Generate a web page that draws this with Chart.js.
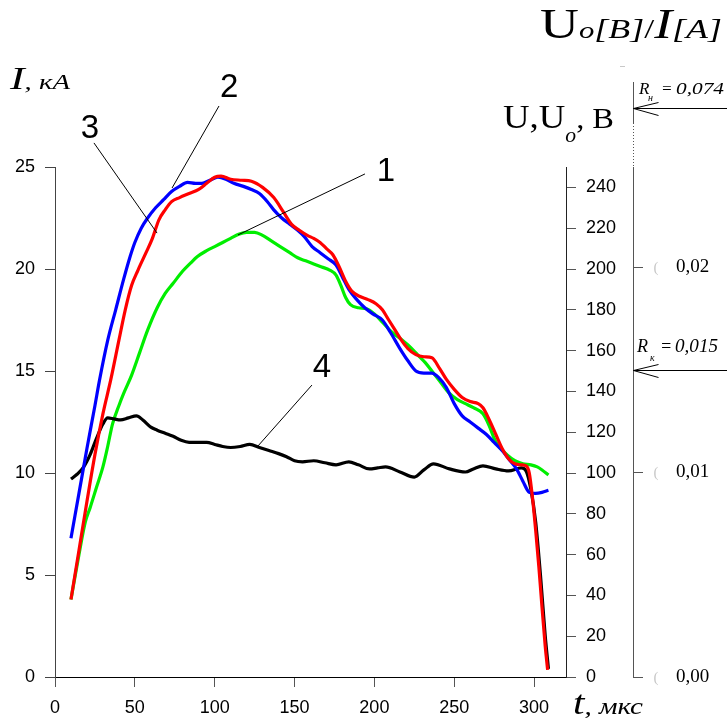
<!doctype html>
<html lang="ru">
<head>
<meta charset="utf-8">
<title>I, U (t)</title>
<script src="https://cdn.jsdelivr.net/npm/chart.js@4.4.1/dist/chart.umd.min.js"></script>
<style>
    body { margin: 0; background: #fff; }
    #chart { display: block; }
</style>
</head>
<body>
<canvas id="chart" width="727" height="724"></canvas>
<script>
    // axis ticks
    var tTicks = [0, 50, 100, 150, 200, 250, 300];
    var iTicks = [0, 5, 10, 15, 20, 25];
    var uTicks = [0, 20, 40, 60, 80, 100, 120, 140, 160, 180, 200, 220, 240];
    var rTicks = [0, 0.01, 0.02];

    // curve 1 (green), t in mks, I in kA
    var t1 = [10,15,19,22,26,30,33,36,40,43,48,53,58,64,69,74,80,85,89,95,100,105,110,115,120,125,130,135,141,147,152,157,162,167,172,176,179,182,185,190,195,200,205,211,216,222,227,232,236,241,247,252,257,262,268,272,275,278,283,288,293,298,302,305,309];
    var i1 = [3.8,6.0,7.6,8.3,9.3,10.3,11.3,12.4,13.3,13.9,14.8,15.9,17.0,18.1,18.8,19.3,19.9,20.3,20.6,20.9,21.1,21.3,21.5,21.7,21.8,21.8,21.65,21.4,21.1,20.8,20.55,20.4,20.25,20.1,19.95,19.7,19.2,18.6,18.25,18.1,18.05,17.8,17.4,16.9,16.6,16.2,15.8,15.4,15.0,14.5,13.9,13.6,13.4,13.2,12.9,12.3,11.7,11.3,10.9,10.6,10.45,10.4,10.3,10.15,9.9];

    // curve 2 (blue)
    var t2 = [10,15,20,25,28,33,38,43,47,50,54,58,63,68,73,78,83,88,92,97,102,107,112,118,123,128,133,137,142,147,152,156,161,166,171,176,180,184,189,194,199,205,210,216,221,226,231,236,240,245,250,255,260,265,270,275,280,285,289,293,297,301,305,309];
    var i2 = [6.8,9.0,11.2,13.3,14.6,16.5,18.0,19.5,20.6,21.3,22.0,22.5,23.0,23.4,23.8,24.05,24.25,24.2,24.2,24.35,24.5,24.4,24.2,24.05,23.9,23.7,23.3,22.9,22.5,22.2,21.9,21.6,21.1,20.8,20.5,20.2,19.6,19.0,18.5,18.1,17.8,17.5,16.9,16.1,15.5,15.0,14.9,14.9,14.7,14.2,13.4,12.8,12.5,12.2,11.9,11.5,11.1,10.6,10.2,9.6,9.05,9.0,9.05,9.15];

    // curve 3 (red)
    var t3 = [10,15,20,25,30,35,40,44,48,52,57,61,65,69,73,78,84,90,95,100,104,110,117,123,130,137,143,148,153,158,162,166,170,174,178,182,186,191,196,201,205,209,213,217,221,226,231,236,241,245,250,255,260,265,268,272,276,280,284,288,292,295,297,299,301,303,305,307,308.5];
    var i3 = [3.8,6.2,8.6,10.9,12.9,14.6,16.5,18.0,19.2,19.95,20.8,21.5,22.4,22.9,23.3,23.5,23.7,23.9,24.2,24.5,24.55,24.4,24.35,24.3,24.0,23.5,22.8,22.2,21.9,21.65,21.5,21.3,21.0,20.7,20.1,19.4,18.9,18.65,18.5,18.3,18.0,17.5,17.0,16.5,16.1,15.8,15.7,15.65,15.1,14.6,14.1,13.7,13.5,13.4,13.2,12.6,11.9,11.2,10.7,10.45,10.4,10.35,10.0,8.8,7.2,5.4,3.4,1.5,0.35];

    // curve 4 (black)
    var t4 = [10,14,18,22,26,30,33,37,41,46,51,55,60,64,69,74,79,84,90,95,100,105,110,116,122,128,134,140,145,150,155,162,169,176,184,190,197,202,207,216,225,231,237,247,257,262,268,276,284,292,295,298,301,304,307,309];
    var i4 = [9.7,9.95,10.3,10.9,11.7,12.4,12.7,12.65,12.6,12.7,12.8,12.6,12.25,12.1,11.95,11.8,11.6,11.5,11.5,11.5,11.4,11.3,11.25,11.3,11.4,11.25,11.1,10.95,10.8,10.6,10.55,10.6,10.5,10.4,10.55,10.4,10.2,10.25,10.3,10.05,9.8,10.15,10.45,10.2,10.05,10.2,10.35,10.2,10.1,10.25,10.1,9.2,7.6,5.0,2.0,0.4];

    function pts(ts, vs) {
        return ts.map(function(t, k) { return { x: t, y: vs[k] }; });
    }

    function line(ts, vs, color) {
        return {
            data: pts(ts, vs),
            yAxisID: 'yI',
            borderColor: color,
            borderWidth: 3.2,
            pointRadius: 0,
            fill: false,
            cubicInterpolationMode: 'monotone'
        };
    }

    function setTicks(list) {
        return function(scale) {
            scale.ticks = list.map(function(v) { return { value: v }; });
        };
    }

    // draws text pieces in a row, squeezed/stretched to a given width
    function runs(ctx, x, y, width, parts) {
        var total = 0;
        parts.forEach(function(p) { ctx.font = p[1]; total += ctx.measureText(p[0]).width; });
        ctx.save();
        ctx.translate(x, y);
        ctx.scale(width / total, 1);
        var cx = 0;
        parts.forEach(function(p) {
            ctx.font = p[1];
            ctx.fillText(p[0], cx, p[2] || 0);
            cx += ctx.measureText(p[0]).width;
        });
        ctx.restore();
    }

    var SERIF = '"Liberation Serif", "Times New Roman", serif';
    var SANS = '"Liberation Sans", Arial, sans-serif';

    var decor = {
        id: 'decor',
        afterDraw: function(chart) {
            var ctx = chart.ctx;
            var sx = chart.scales.x, sy = chart.scales.yI, sr = chart.scales.yR;
            var X = function(t) { return sx.getPixelForValue(t); };
            var Y = function(v) { return sy.getPixelForValue(v); };
            ctx.save();
            ctx.fillStyle = '#000';
            ctx.strokeStyle = '#000';
            ctx.lineWidth = 1;

            // curve numbers with leader lines (t, I)
            var leaders = [
                ['1', 207.3, 24.3, 194.1, 24.66, 114.6, 21.67],
                ['2', 109.0, 28.43, 102.7, 27.99, 73.3, 23.97],
                ['3', 21.9, 26.42, 24.4, 26.18, 63.9, 21.76],
                ['4', 167.2, 14.71, 160.9, 14.31, 126.5, 11.27]
            ];
            ctx.font = '33px ' + SANS;
            ctx.textAlign = 'center';
            leaders.forEach(function(l) {
                ctx.fillText(l[0], X(l[1]), Y(l[2]));
                ctx.beginPath();
                ctx.moveTo(X(l[3]), Y(l[4]));
                ctx.lineTo(X(l[5]), Y(l[6]));
                ctx.stroke();
            });
            ctx.textAlign = 'left';

            // third axis goes on above the plot, with a break
            var ax = Math.round(sr.left) + 0.5;
            ctx.strokeStyle = '#555';
            ctx.beginPath();
            ctx.moveTo(ax, 82);
            ctx.lineTo(ax, 123);
            ctx.stroke();
            ctx.setLineDash([1, 2]);
            ctx.beginPath();
            ctx.moveTo(ax, 123);
            ctx.lineTo(ax, chart.chartArea.top);
            ctx.stroke();
            ctx.setLineDash([]);

            // faint marks next to the third axis ticks
            ctx.fillStyle = '#c8c8c8';
            ctx.font = '15px ' + SERIF;
            rTicks.forEach(function(v) {
                ctx.fillText('(', ax + 20, sr.getPixelForValue(v) + 5);
            });
            ctx.fillRect(620, 66, 5, 1);

            // resistance arrows
            ctx.fillStyle = '#000';
            ctx.strokeStyle = '#000';
            function arrow(y) {
                ctx.beginPath();
                ctx.moveTo(727, y);
                ctx.lineTo(ax, y);
                ctx.moveTo(ax + 25, y - 6);
                ctx.lineTo(ax, y);
                ctx.lineTo(ax + 25, y + 7);
                ctx.stroke();
            }
            var yN = 108.5;
            var yK = Math.round(sr.getPixelForValue(0.015)) + 0.5;
            arrow(yN);
            arrow(yK);
            var it17 = 'italic 17px ' + SERIF;
            var it10 = 'italic 10px ' + SERIF;
            ctx.font = it17; ctx.fillText('R', 639, 94);
            ctx.font = it10; ctx.fillText('н', 648, 101);
            ctx.font = it17; ctx.fillText('=', 661, 94);
            runs(ctx, 676, 94, 48, [['0,074', it17]]);
            ctx.font = 'italic 18px ' + SERIF; ctx.fillText('R', 637, yK - 19);
            ctx.font = it10; ctx.fillText('к', 650, yK - 10);
            ctx.font = 'italic 18px ' + SERIF; ctx.fillText('=', 660, yK - 19);
            runs(ctx, 675, yK - 19, 43, [['0,015', 'italic 18px ' + SERIF]]);

            // axis titles
            runs(ctx, 10, 89, 60, [['I', 'italic 32px ' + SERIF], [', кА', 'italic 21px ' + SERIF]]);
            runs(ctx, 503, 128, 111, [
                ['U,U', '34px ' + SERIF],
                ['o', 'italic 20px ' + SERIF, 14],
                [',', '30px ' + SERIF],
                [' B', '30px ' + SERIF]
            ]);
            runs(ctx, 540, 38, 182, [
                ['U', '42px ' + SERIF],
                ['o', 'italic 24px ' + SERIF],
                ['[B]', 'italic 28px ' + SERIF],
                ['/', '28px ' + SERIF],
                ['I', 'italic 42px ' + SERIF],
                ['[A]', 'italic 28px ' + SERIF]
            ]);
            runs(ctx, 573, 714, 70, [['t', 'italic 34px ' + SERIF], [', мкс', 'italic 24px ' + SERIF]]);

            ctx.restore();
        }
    };

    Chart.defaults.font.family = SANS;
    Chart.defaults.font.size = 18;
    Chart.defaults.color = '#000';

    var ctx = document.getElementById('chart').getContext('2d');
    var chart = new Chart(ctx, {
        type: 'line',
        data: {
            datasets: [
                line(t3, i3, '#ff0000'),
                line(t2, i2, '#0000ff'),
                line(t4, i4, '#000000'),
                line(t1, i1, '#00ee00')
            ]
        },
        options: {
            responsive: false,
            animation: false,
            layout: { padding: { top: 167, left: 0, right: 0, bottom: 0 } },
            plugins: { legend: { display: false }, tooltip: { enabled: false } },
            scales: {
                x: {
                    type: 'linear',
                    position: 'bottom',
                    min: 0,
                    max: 320,
                    afterBuildTicks: setTicks(tTicks),
                    afterFit: function(s) { s.height = 47; },
                    grid: { drawOnChartArea: false, tickLength: 10, color: '#555' },
                    border: { color: '#000' },
                    ticks: { padding: 10, maxRotation: 0 }
                },
                yI: {
                    type: 'linear',
                    position: 'left',
                    min: 0,
                    max: 25,
                    afterBuildTicks: setTicks(iTicks),
                    afterFit: function(s) { s.width = 55; },
                    grid: { drawOnChartArea: false, tickLength: 10, color: '#444' },
                    border: { color: '#444' },
                    ticks: { padding: 10 }
                },
                yU: {
                    type: 'linear',
                    position: 'right',
                    weight: 0,
                    min: 0,
                    max: 250,
                    afterBuildTicks: setTicks(uTicks),
                    afterFit: function(s) { s.width = 67; },
                    grid: { drawOnChartArea: false, tickLength: 10, color: '#555' },
                    border: { color: '#222' },
                    ticks: { padding: 10 }
                },
                yR: {
                    type: 'linear',
                    position: 'right',
                    weight: 1,
                    min: 0,
                    max: 0.02488,
                    afterBuildTicks: setTicks(rTicks),
                    afterFit: function(s) { s.width = 94; },
                    grid: { drawOnChartArea: false, tickLength: 10, color: '#555' },
                    border: { color: '#555' },
                    ticks: {
                        padding: 33,
                        font: { family: SERIF, size: 19 },
                        callback: function(v) { return v.toFixed(2).replace('.', ','); }
                    }
                }
            }
        },
        plugins: [decor]
    });
</script>
</body>
</html>
